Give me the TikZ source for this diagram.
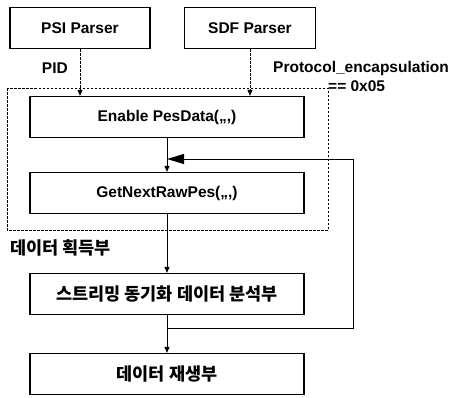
\documentclass[tikz,border=0pt]{standalone}
\usepackage{fontspec}
\setmainfont{Liberation Sans}
\newfontfamily\krfont{Noto Sans CJK KR}
\usetikzlibrary{arrows.meta}
\begin{document}
\begin{tikzpicture}[
        x=1pt, y=-1pt,
        block/.style={rectangle, draw, line width=1.3pt, minimum height=41pt, inner sep=0pt, font=\fontsize{15.5}{17}\selectfont\bfseries},
        wideblock/.style={block, minimum width=274pt},
        krblock/.style={wideblock, font=\fontsize{17.5}{19}\selectfont\krfont\bfseries},
        flow/.style={-{Triangle[length=6pt,width=5pt]}, line width=0.9pt},
        dflow/.style={flow, dash pattern=on 2.5pt off 1.5pt},
        loopback/.style={-{Triangle[length=17pt,width=10pt]}, line width=1pt},
        cond_label/.style={font=\fontsize{15.5}{17}\selectfont\bfseries, inner sep=0pt}
    ]
        \useasboundingbox (0,0) rectangle (452,397);

        % Parsers on top
        \node[block, minimum width=140pt] (psi) at (80,28) {PSI Parser};
        \node[block, minimum width=131pt] (sdf) at (250,28) {SDF Parser};

        % Data acquisition part (dashed group)
        \draw[line width=0.9pt, dash pattern=on 2.5pt off 1.5pt] (7,88) rectangle (328,230);
        \node[wideblock] (enable) at (167,117) {Enable PesData(,,,)};
        \node[wideblock] (getnext) at (167,193) {GetNextRawPes(,,,)};
        \node[font=\fontsize{17.5}{19}\selectfont\krfont\bfseries, anchor=west, inner sep=0pt] (acq) at (10,248) {데이터 획득부};

        % Analysis and playback
        \node[krblock] (stream) at (167,294) {스트리밍 동기화 데이터 분석부};
        \node[krblock] (play) at (167,374) {데이터 재생부};

        % Inputs from the parsers
        \draw[dflow] (psi.south) -- (psi.south |- enable.north);
        \draw[dflow] (sdf.south) -- (sdf.south |- enable.north);
        \node[cond_label, anchor=east] (pid) at (68,68) {PID};
        \node[cond_label, anchor=west] (proto) at (273,68) {Protocol\_encapsulation};
        \node[cond_label, anchor=west] (val) at (328,86) {== 0x05};

        % Main flow
        \draw[flow] (enable) -- (getnext);
        \draw[flow] (getnext) -- (stream);
        \draw[flow] (stream) -- (play);

        % Feedback loop
        \coordinate (join) at (167,328);
        \coordinate (loop_bottom) at (353,328);
        \coordinate (loop_top) at (353,159);
        \coordinate (loop_tip) at (167,159);
        \draw[line width=1pt] (join) -- (loop_bottom) -- (loop_top);
        \draw[loopback] (loop_top) -- (loop_tip);
    \end{tikzpicture}
\end{document}
